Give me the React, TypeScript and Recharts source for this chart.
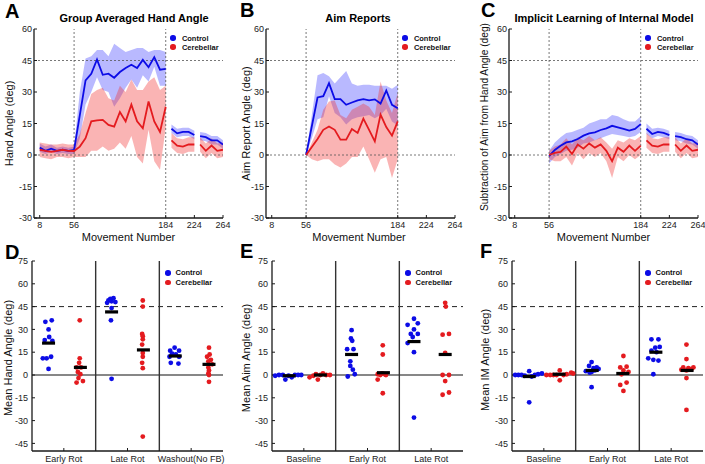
import React from 'react';
import { ComposedChart, XAxis, YAxis, Area, Line, Scatter, ReferenceLine, Legend } from 'recharts';

const FONT = '"Liberation Sans", Arial, Helvetica, sans-serif';
const INK = '#1a1a1a';
const BLUE = '#0c0ce6';
const RED = '#e41b1f';
const BLUE_FILL = '#2a2aff';
const RED_FILL = '#f23030';

const seriesNames = ['Control', 'Cerebellar'];

// ---------- top row (time courses) ----------
const movements = [8, 16, 24, 32, 40, 48, 56, 64, 72, 80, 88, 96, 104, 112, 120, 128, 136, 144, 152, 160, 168, 176, 184, 192, 200, 208, 216, 224, 232, 240, 248, 256, 264];
const blockRanges = [[8, 184], [192, 224], [232, 264]];
const movementTicks = [8, 56, 184, 224, 264];
const topAngleTicks = [-30, -15, 0, 15, 30, 45, 60];
const topGuideX = [56, 184];
const topGuideY = [45, 0];

const N = null;

// A: hand angle
const handCtrl = [3.5, 2, 3, 2, 2.5, 2, 2.4, 19, 35.5, 38.7, 45.5, 38.2, 38.7, 36.8, 39.5, 41.4, 43, 41.4, 45.3, 41.8, 46.6, 40.6, 41, 12.5, 10.3, 11, 11, 9.5, 9, 8.5, 7, 7, 5];
const handCtrlHi = [5.5, 4, 5, 3.5, 4, 3.5, 4, 30, 46, 47, 50, 50, 47, 53, 51, 49, 50, 51, 51, 49, 50, 50, 49, 14.5, 12.5, 13, 13, 11.5, 11, 10.5, 9, 9, 7];
const handCtrlLo = [1.5, 0.5, 1.5, 0.5, 1, 0.5, 0.5, 8, 24, 30, 37, 31, 30, 23, 27, 32, 36, 32, 38, 35, 42, 33, 33, 10.5, 8.5, 9, 9, 7.5, 7, 6.5, 5, 5, 3];
const handCer = [2.5, 2, 1.5, 2, 2.5, 2, 1.9, 4, 8, 16, 16.5, 16.7, 14.3, 13.5, 20.5, 16, 24, 16, 12.7, 25.5, 16, 11, 23, 7, 4.5, 4, 5, 5, 5, 2, 4.5, 2, 2.5];
const handCerHi = [6, 5.5, 5, 5, 5.5, 5, 5, 10, 20, 29, 31, 32, 27, 26, 33, 30, 36, 31, 31, 35, 37, 31, 33, 10.5, 8, 7.5, 8.5, 8.5, 8.5, 5.5, 8, 5.5, 6];
const handCerLo = [-1, -1.5, -2, -1, -1, -1.5, -1, -1, -1, 2, 2, 4, 2, 3, 6, 3, 9, -1, -4, 12, -3, -7, 13, 3.5, 1, 0.5, 1.5, 1.5, 1.5, -1.5, 1, -1.5, -1];

// B: aim reports
const aimCtrl = [N, N, N, N, N, N, 0, 13.7, 27.4, 28, 34.2, 26.6, 26.6, 23.9, 25, 26, 26.6, 26, 26.5, 24.5, 30.7, 23.9, 22.3, N, N, N, N, N, N, N, N, N, N];
const aimCtrlHi = [N, N, N, N, N, N, 0, 19, 38, 39, 37.5, 34, 37, 40, 34, 33, 33.5, 33.5, 33, 33, 33, 31.5, 33.5, N, N, N, N, N, N, N, N, N, N];
const aimCtrlLo = [N, N, N, N, N, N, 0, 8, 17, 18, 28, 20, 18, 14.5, 17, 18, 18.5, 19, 17.5, 19, 22, 16, 14, N, N, N, N, N, N, N, N, N, N];
const aimCer = [N, N, N, N, N, N, 0, 3.8, 7.6, 12, 13.6, 12, 7.3, 7.3, 12.4, 10.5, 17.3, 12, 6.5, 19.2, 13.3, 9.2, 16, N, N, N, N, N, N, N, N, N, N];
const aimCerHi = [N, N, N, N, N, N, 0, 6, 12, 21.5, 25.5, 26, 19, 17.5, 21.5, 23, 24.5, 23, 19, 35, 26, 20, 29.5, N, N, N, N, N, N, N, N, N, N];
const aimCerLo = [N, N, N, N, N, N, 0, -2, -3, -2, -2, -4.5, -6, -4, -1, -1, 4, -2, -8.5, -2, -1, -11, -2, N, N, N, N, N, N, N, N, N, N];

// C: implicit learning
const implCtrl = [N, N, N, N, N, N, -0.5, 2.4, 4.4, 6, 6.5, 7.6, 9.2, 10.3, 10.8, 11.9, 12.7, 13.9, 13.2, 12.4, 11.6, 12.4, 14.7, 12.5, 10, 11, 10.5, 9.5, 9, 8.5, 7.5, 7, 5];
const implCtrlHi = [N, N, N, N, N, N, 2, 6, 8.5, 10.5, 11, 12, 13, 15, 16, 17, 17, 19, 18.5, 17, 16, 16, 18.5, 15, 12.5, 13, 12.5, 11.5, 11, 10.5, 9.5, 9, 7];
const implCtrlLo = [N, N, N, N, N, N, -4, -1, 0.5, 2, 2.5, 3.5, 5.5, 6, 7, 8, 9, 10, 9.5, 9, 8.5, 9, 11, 10, 8, 9, 8.5, 7.5, 7, 6.5, 5.5, 5, 3];
const implCer = [N, N, N, N, N, N, 0, 1, 1.5, 4, 0.5, 5, 3, 5.5, 3.5, 5, 2, -3, 3.5, 1.5, 4.5, 2, 4.5, 7, 4.5, 4, 5, 5, 5, 2, 4.5, 2, 2.5];
const implCerHi = [N, N, N, N, N, N, 2, 4, 5, 8, 5, 8.5, 7, 9, 7, 8.5, 6, 3, 7, 6, 8, 7, 9, 10.5, 8, 7.5, 8.5, 8.5, 8.5, 5.5, 8, 5.5, 6];
const implCerLo = [N, N, N, N, N, N, -2, -3, -3, -1, -5, 1, -2, 1, -1, 1, -3, -11, -1, -3, 0, -2, 0, 3.5, 1, 0.5, 1.5, 1.5, 1.5, -1.5, 1, -1.5, -1];

// ---------- bottom row (individual means) ----------
const groupCenters = [0.5, 1.5, 2.5];
const groupSeparators = [1, 2];
const bottomAngleTicks = [-45, -30, -15, 0, 15, 30, 45, 60, 75];
const targetAngle = 45;

const handGroups = ['Early Rot', 'Late Rot', 'Washout(No FB)'];
const handCtrlDotsY = [[35, 36, 30, 25, 23, 22.5, 11, 11, 12, 4], [50, 50.5, 49, 48.5, 48, 47.5, 44, 36, -2.5], [18, 16, 16, 14, 13.5, 12, 12, 8, 7.5]];
const handCtrlDotsX = [[0.21, 0.31, 0.26, 0.27, 0.2, 0.32, 0.17, 0.23, 0.3, 0.26], [1.23, 1.28, 1.2, 1.25, 1.31, 1.18, 1.25, 1.24, 1.25], [2.24, 2.17, 2.31, 2.2, 2.26, 2.16, 2.31, 2.18, 2.3]];
const handCerDotsY = [[36, 11, 8, 5, 5, 2, 0.5, -2, -5, -4], [49, 45, 27, 25.5, 23.5, 20, 14.5, 12, 8, 4.5, -40.5], [18, 13.5, 12, 10, 9, 7, 5, 3, 1, 0, -4.5]];
const handCerDotsX = [[0.75, 0.75, 0.74, 0.7, 0.77, 0.72, 0.76, 0.73, 0.7, 0.8], [1.74, 1.74, 1.73, 1.74, 1.74, 1.73, 1.74, 1.74, 1.73, 1.74, 1.74], [2.78, 2.79, 2.75, 2.81, 2.77, 2.83, 2.77, 2.78, 2.77, 2.78, 2.78]];
const handCtrlMean = [21, 41.5, 12.5];
const handCtrlMeanX = [0.26, 1.25, 2.25];
const handCerMean = [5, 16.5, 7];
const handCerMeanX = [0.76, 1.75, 2.78];

const aimGroups = ['Baseline', 'Early Rot', 'Late Rot'];
const aimCtrlDotsY = [[-0.5, 0, 0, -3, -0.5, -1.5, 0, 0, 0], [29.5, 24, 22.5, 17, 17, 9, 6, 3.5, 0.5, -1], [37, 33, 34, 30, 27, 27, 25, 21, 15, -28]];
const aimCtrlDotsX = [[0.05, 0.11, 0.17, 0.21, 0.26, 0.31, 0.36, 0.41, 0.46], [1.25, 1.24, 1.26, 1.18, 1.28, 1.23, 1.23, 1.27, 1.3, 1.19], [2.23, 2.13, 2.29, 2.23, 2.18, 2.29, 2.21, 2.13, 2.23, 2.23]];
const aimCerDotsY = [[-1.5, -0.5, 0.5, -3, 0, 1, 0, 0], [19.5, 13.5, 0.5, 0, 1, 0.5, 0, -3, -12], [47.5, 45, 26.5, 27, 14.5, 0, 0, -4, -13, -11.5]];
const aimCerDotsX = [[0.59, 0.65, 0.69, 0.72, 0.76, 0.8, 0.85, 0.91], [1.74, 1.74, 1.66, 1.7, 1.73, 1.77, 1.79, 1.66, 1.74], [2.72, 2.73, 2.68, 2.78, 2.72, 2.68, 2.78, 2.72, 2.68, 2.78]];
const aimCtrlMean = [-0.5, 13.5, 22];
const aimCtrlMeanX = [0.27, 1.25, 2.23];
const aimCerMean = [0, 1.5, 13.5];
const aimCerMeanX = [0.76, 1.75, 2.72];

const imGroups = ['Baseline', 'Early Rot', 'Late Rot'];
const imCtrlDotsY = [[0, 0, 0, -0.5, 2.5, -1, 0, 0.5, 1, -18], [8.5, 6, 5, 4.5, 4, 3, 2.5, 2, 1.5, -8], [23.5, 23.5, 18, 18.5, 16, 15, 11, 10, 9.5, 0.5]];
const imCtrlDotsX = [[0.05, 0.1, 0.15, 0.2, 0.27, 0.31, 0.36, 0.41, 0.47, 0.27], [1.25, 1.21, 1.33, 1.28, 1.36, 1.3, 1.16, 1.25, 1.22, 1.25], [2.19, 2.3, 2.25, 2.32, 2.19, 2.27, 2.14, 2.22, 2.3, 2.22]];
const imCerDotsY = [[0, 0, 0, 0, 3, -3.5, 0, 0.5, 1.5, 1], [12.5, 5, 5.5, 3, 2, 0.5, -6.5, -5, -10.5], [20, 10.5, 5, 4.5, 5, 4, 3.5, 3, -2, -23]];
const imCerDotsX = [[0.54, 0.6, 0.65, 0.7, 0.75, 0.75, 0.81, 0.86, 0.93, 0.96], [1.75, 1.7, 1.8, 1.75, 1.83, 1.72, 1.7, 1.8, 1.75], [2.74, 2.74, 2.69, 2.77, 2.85, 2.82, 2.66, 2.74, 2.74, 2.74]];
const imCtrlMean = [-1, 3, 15];
const imCtrlMeanX = [0.27, 1.26, 2.26];
const imCerMean = [0.5, 1, 3];
const imCerMeanX = [0.74, 1.74, 2.75];

// ---------- helpers ----------
function blockRows(mean: (number | null)[], lo: (number | null)[], hi: (number | null)[]) {
  return blockRanges
    .map(([a, b]) =>
      movements
        .map((m, i) => ({ m, i }))
        .filter(({ m, i }) => m >= a && m <= b && mean[i] != null)
        .map(({ m, i }) => ({ x: m, mean: mean[i], band: [lo[i], hi[i]] }))
    )
    .filter((rows) => rows.length > 0);
}

function LegendBox({ gap, rowH }: { gap: number; rowH: number }) {
  const colors = [BLUE, RED];
  return (
    <div style={{ fontFamily: FONT, fontSize: 7.5, fontWeight: 'bold', color: '#111' }}>
      {seriesNames.map((n, i) => (
        <div key={n} style={{ display: 'flex', alignItems: 'center', height: rowH, whiteSpace: 'nowrap' }}>
          <span style={{ display: 'inline-block', width: 5.5, height: 5.5, borderRadius: '50%', background: colors[i], marginRight: gap }} />
          {n}
        </div>
      ))}
    </div>
  );
}

const axisLineStyle = { stroke: INK, strokeWidth: 1.3 };
const tickLineStyle = { stroke: INK, strokeWidth: 1 };
const tickText = { fontSize: 9, fill: '#222', fontFamily: FONT };

function TopPanel({ left, top, ctrl, cer }: any) {
  const W = 189, H = 189, ML = 40, MT = 10, MR = 10, XH = 20;
  const ctrlBlocks = blockRows(ctrl[0], ctrl[1], ctrl[2]);
  const cerBlocks = blockRows(cer[0], cer[1], cer[2]);
  return (
    <div style={{ position: 'absolute', left: left - ML, top: top - MT }}>
      <ComposedChart width={W + ML + MR} height={H + MT + XH} margin={{ top: MT, right: MR, bottom: 0, left: 0 }}>
        <XAxis type="number" dataKey="x" domain={[0, 264]} ticks={movementTicks} interval={0} allowDataOverflow height={XH} tickSize={-3} tickMargin={7} tick={tickText} axisLine={axisLineStyle} tickLine={tickLineStyle} />
        <XAxis xAxisId="top" orientation="top" type="number" domain={[0, 264]} ticks={movementTicks} interval={0} height={0} tickSize={-3} tick={false} axisLine={axisLineStyle} tickLine={tickLineStyle} />
        <YAxis type="number" domain={[-30, 60]} ticks={topAngleTicks} interval={0} allowDataOverflow width={ML} tickSize={-3} tickMargin={5} tick={tickText} axisLine={axisLineStyle} tickLine={tickLineStyle} />
        <YAxis yAxisId="right" orientation="right" type="number" domain={[-30, 60]} ticks={topAngleTicks} interval={0} width={0} tickSize={-3} tick={false} axisLine={axisLineStyle} tickLine={tickLineStyle} />
        {topGuideX.map((v) => (
          <ReferenceLine key={'gx' + v} x={v} stroke="#555" strokeDasharray="2 2" strokeWidth={0.8} />
        ))}
        {topGuideY.map((v) => (
          <ReferenceLine key={'gy' + v} y={v} stroke="#555" strokeDasharray="2 2" strokeWidth={0.8} />
        ))}
        {ctrlBlocks.map((rows, i) => (
          <Area key={'ca' + i} data={rows} dataKey="band" type="linear" stroke="none" fill={BLUE_FILL} fillOpacity={0.33} isAnimationActive={false} />
        ))}
        {ctrlBlocks.map((rows, i) => (
          <Line key={'cl' + i} data={rows} dataKey="mean" type="linear" stroke={BLUE} strokeWidth={1.8} dot={false} isAnimationActive={false} />
        ))}
        {cerBlocks.map((rows, i) => (
          <Area key={'ra' + i} data={rows} dataKey="band" type="linear" stroke="none" fill={RED_FILL} fillOpacity={0.36} isAnimationActive={false} />
        ))}
        {cerBlocks.map((rows, i) => (
          <Line key={'rl' + i} data={rows} dataKey="mean" type="linear" stroke={RED} strokeWidth={1.8} dot={false} isAnimationActive={false} />
        ))}
        <Legend
          layout="horizontal"
          verticalAlign="middle"
          align="center"
          wrapperStyle={{ position: 'absolute', left: ML + 136.2, top: MT + 4.5, width: 60 }}
          content={() => <LegendBox gap={6.2} rowH={9} />}
        />
      </ComposedChart>
    </div>
  );
}

const dotShape = (color: string) => (p: any) => <circle cx={p.cx} cy={p.cy} r={2.4} fill={color} />;
const meanShape = (p: any) => <rect x={p.cx - 6.5} y={p.cy - 1.6} width={13} height={3.2} fill="#000" />;

function BottomPanel({ left, top, groups, ctrlY, ctrlX, cerY, cerX, ctrlMean, ctrlMeanX, cerMean, cerMeanX }: any) {
  const W = 191, H = 190, ML = 40, MT = 10, MR = 2, XH = 13;
  return (
    <div style={{ position: 'absolute', left: left - ML, top: top - MT }}>
      <ComposedChart width={W + ML + MR} height={H + MT + XH} margin={{ top: MT, right: MR, bottom: 0, left: 0 }}>
        <XAxis type="number" dataKey="x" domain={[0, 3]} ticks={groupCenters} interval={0} allowDataOverflow height={XH} tickSize={-3} tickMargin={8} tick={tickText} tickFormatter={(v: number, i: number) => groups[i]} axisLine={axisLineStyle} tickLine={tickLineStyle} />
        <XAxis xAxisId="top" orientation="top" type="number" domain={[0, 3]} ticks={groupCenters} interval={0} height={0} tickSize={-3} tick={false} axisLine={axisLineStyle} tickLine={tickLineStyle} />
        <YAxis type="number" dataKey="y" domain={[-50, 75]} ticks={bottomAngleTicks} interval={0} allowDataOverflow width={ML} tickSize={-3} tickMargin={7} tick={tickText} axisLine={axisLineStyle} tickLine={tickLineStyle} />
        <YAxis yAxisId="right" orientation="right" type="number" domain={[-50, 75]} ticks={bottomAngleTicks} interval={0} width={0} tickSize={-3} tick={false} axisLine={axisLineStyle} tickLine={tickLineStyle} />
        <ReferenceLine y={targetAngle} stroke="#222" strokeDasharray="5 4" strokeWidth={1} />
        <ReferenceLine y={0} stroke="#111" strokeWidth={1.2} />
        {groupSeparators.map((v) => (
          <ReferenceLine key={'sep' + v} x={v} stroke="#333" strokeWidth={1.4} />
        ))}
        {groups.map((g: string, gi: number) => (
          <Scatter key={'c' + gi} data={ctrlX[gi].map((x: number, k: number) => ({ x, y: ctrlY[gi][k] }))} dataKey="y" shape={dotShape(BLUE)} isAnimationActive={false} />
        ))}
        {groups.map((g: string, gi: number) => (
          <Scatter key={'r' + gi} data={cerX[gi].map((x: number, k: number) => ({ x, y: cerY[gi][k] }))} dataKey="y" shape={dotShape(RED)} isAnimationActive={false} />
        ))}
        <Scatter data={ctrlMean.map((y: number, i: number) => ({ x: ctrlMeanX[i], y }))} dataKey="y" shape={meanShape} isAnimationActive={false} />
        <Scatter data={cerMean.map((y: number, i: number) => ({ x: cerMeanX[i], y }))} dataKey="y" shape={meanShape} isAnimationActive={false} />
        <Legend
          layout="horizontal"
          verticalAlign="middle"
          align="center"
          wrapperStyle={{ position: 'absolute', left: ML + 133, top: MT + 7, width: 60 }}
          content={() => <LegendBox gap={5} rowH={9.6} />}
        />
      </ComposedChart>
    </div>
  );
}

function Overlay() {
  const letter = { fontFamily: FONT, fontSize: 20, fontWeight: 'bold' as const, fill: '#000' };
  const title = { fontFamily: FONT, fontSize: 11, fontWeight: 'bold' as const, fill: '#000', textAnchor: 'middle' as const };
  const xlab = { fontFamily: FONT, fontSize: 11, fill: '#111', textAnchor: 'middle' as const };
  const ylab = (x: number, y: number, text: string, size = 11) => (
    <text x={x} y={y} transform={`rotate(-90 ${x} ${y})`} fontFamily={FONT} fontSize={size} fill="#111" textAnchor="middle" dominantBaseline="central">
      {text}
    </text>
  );
  return (
    <svg width={705} height={464} style={{ position: 'absolute', left: 0, top: 0, pointerEvents: 'none' }}>
      <text x={5} y={18} {...letter}>A</text>
      <text x={240} y={17} {...letter}>B</text>
      <text x={481} y={17} {...letter}>C</text>
      <text x={5} y={259} {...letter}>D</text>
      <text x={240} y={258} {...letter}>E</text>
      <text x={480} y={258} {...letter}>F</text>
      <text x={134} y={22} {...title}>Group Averaged Hand Angle</text>
      <text x={358} y={22} {...title}>Aim Reports</text>
      <text x={604} y={22} {...title}>Implicit Learning of Internal Model</text>
      <text x={128.5} y={241} {...xlab}>Movement Number</text>
      <text x={359} y={241} {...xlab}>Movement Number</text>
      <text x={603.5} y={241} {...xlab}>Movement Number</text>
      {ylab(9, 123.5, 'Hand Angle (deg)')}
      {ylab(246, 123.5, 'Aim Report Angle (deg)')}
      {ylab(484, 117, 'Subtraction of Aim from Hand Angle (deg)', 10.2)}
      {ylab(8, 358, 'Mean Hand Angle (deg)')}
      {ylab(246, 358, 'Mean Aim Angle (deg)')}
      {ylab(485, 360, 'Mean IM Angle (deg)')}
    </svg>
  );
}

export default function App() {
  return (
    <div style={{ position: 'absolute', left: 0, top: 0, width: 705, height: 464, overflow: 'hidden', background: '#fff', fontFamily: FONT }}>
      <TopPanel left={34} top={29} ctrl={[handCtrl, handCtrlLo, handCtrlHi]} cer={[handCer, handCerLo, handCerHi]} />
      <TopPanel left={266} top={29} ctrl={[aimCtrl, aimCtrlLo, aimCtrlHi]} cer={[aimCer, aimCerLo, aimCerHi]} />
      <TopPanel left={509} top={29} ctrl={[implCtrl, implCtrlLo, implCtrlHi]} cer={[implCer, implCerLo, implCerHi]} />
      <BottomPanel left={32} top={261} groups={handGroups} ctrlY={handCtrlDotsY} ctrlX={handCtrlDotsX} cerY={handCerDotsY} cerX={handCerDotsX} ctrlMean={handCtrlMean} ctrlMeanX={handCtrlMeanX} cerMean={handCerMean} cerMeanX={handCerMeanX} />
      <BottomPanel left={272} top={261} groups={aimGroups} ctrlY={aimCtrlDotsY} ctrlX={aimCtrlDotsX} cerY={aimCerDotsY} cerX={aimCerDotsX} ctrlMean={aimCtrlMean} ctrlMeanX={aimCtrlMeanX} cerMean={aimCerMean} cerMeanX={aimCerMeanX} />
      <BottomPanel left={512} top={261} groups={imGroups} ctrlY={imCtrlDotsY} ctrlX={imCtrlDotsX} cerY={imCerDotsY} cerX={imCerDotsX} ctrlMean={imCtrlMean} ctrlMeanX={imCtrlMeanX} cerMean={imCerMean} cerMeanX={imCerMeanX} />
      <Overlay />
    </div>
  );
}
